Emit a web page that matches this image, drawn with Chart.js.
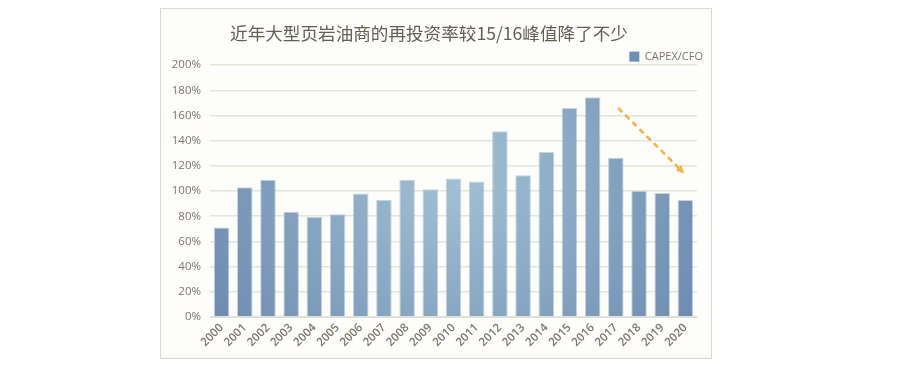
<!DOCTYPE html>
<html>
<head>
<meta charset="utf-8">
<script src="https://cdn.jsdelivr.net/npm/chart.js@4/dist/chart.umd.min.js"></script>
<style>
  html, body { margin: 0; padding: 0; background: #ffffff; }
  body { width: 900px; height: 367px; position: relative; overflow: hidden; }
  #frame {
    position: absolute; left: 160px; top: 8px; width: 550px; height: 349px;
    border: 1.5px solid #d9dacd; background: #fdfdfb;
  }
</style>
</head>
<body>
<div id="frame"><canvas id="capexChart"></canvas></div>
<script>
// Categories and values (CAPEX / CFO, %)
const years = ['2000', '2001', '2002', '2003', '2004', '2005', '2006', '2007', '2008', '2009', '2010',
               '2011', '2012', '2013', '2014', '2015', '2016', '2017', '2018', '2019', '2020'];
const capexCfo = [71, 103, 109, 83.5, 79.5, 81.5, 98, 93, 109, 101.5, 110,
                  107.5, 147.5, 112.5, 131, 166, 174.5, 126.5, 100, 98.5, 93];
const yTicks = [0, 20, 40, 60, 80, 100, 120, 140, 160, 180, 200];
// Trend arrow, in data units: [category index, value %]
const arrowFrom = [17.1, 166];
const arrowTo = [19.95, 114];

const tickColor = '#7f7467';
const gridColor = '#e4e7d8';

function barFill(context) {
    const area = context.chart.chartArea;
    if (!area) return '#86a4c0';
    const cx = (area.left + area.right) / 2;
    const g = context.chart.ctx.createRadialGradient(cx, area.top + area.height * 0.45, 10,
                                                     cx, area.top + area.height * 0.45, area.width * 0.6);
    g.addColorStop(0, '#a1bfd2');
    g.addColorStop(1, '#6a89ae');
    return g;
}

// Dashed orange arrow showing the decline after the 15/16 peak
const trendArrow = {
    id: 'trendArrow',
    afterDatasetsDraw(chart) {
        const { ctx, scales: { x, y } } = chart;
        const x1 = x.getPixelForValue(arrowFrom[0]), y1 = y.getPixelForValue(arrowFrom[1]);
        const x2 = x.getPixelForValue(arrowTo[0]), y2 = y.getPixelForValue(arrowTo[1]);
        const ang = Math.atan2(y2 - y1, x2 - x1);
        const head = 9;
        ctx.save();
        ctx.strokeStyle = '#f0b04c';
        ctx.fillStyle = '#f0b04c';
        ctx.lineWidth = 2.5;
        ctx.setLineDash([6, 4]);
        ctx.beginPath();
        ctx.moveTo(x1, y1);
        ctx.lineTo(x2 - Math.cos(ang) * head * 0.8, y2 - Math.sin(ang) * head * 0.8);
        ctx.stroke();
        ctx.setLineDash([]);
        ctx.beginPath();
        ctx.moveTo(x2, y2);
        ctx.lineTo(x2 - head * Math.cos(ang - 0.45), y2 - head * Math.sin(ang - 0.45));
        ctx.lineTo(x2 - head * Math.cos(ang + 0.45), y2 - head * Math.sin(ang + 0.45));
        ctx.closePath();
        ctx.fill();
        ctx.restore();
    }
};

// Nudge the legend down/right so it sits just above the top gridline
const legendNudge = {
    id: 'legendNudge',
    afterLayout(chart) {
        const lg = chart.legend;
        if (!lg) return;
        lg.top += 7; lg.bottom += 7;
        lg.left += 7; lg.right += 7;
    }
};

const ctx = document.getElementById('capexChart').getContext('2d');
const capexChart = new Chart(ctx, {
    type: 'bar',
    data: {
        labels: years,
        datasets: [{
            label: 'CAPEX/CFO',
            data: capexCfo,
            backgroundColor: barFill,
            borderColor: 'rgba(96, 128, 160, 0.35)',
            borderWidth: 1,
            categoryPercentage: 1.0,
            barPercentage: 0.67
        }]
    },
    options: {
        responsive: true,
        maintainAspectRatio: false,
        animation: false,
        layout: {
            padding: { left: 0, right: 14, top: 0, bottom: 0 }
        },
        plugins: {
            title: {
                display: true,
                text: '近年大型页岩油商的再投资率较15/16峰值降了不少',
                color: '#665d53',
                font: { family: '"Noto Sans CJK SC", "Noto Sans", sans-serif', size: 17.6, weight: 'normal' },
                padding: { top: 14, bottom: -1 }
            },
            legend: {
                display: true,
                position: 'top',
                align: 'end',
                labels: {
                    color: tickColor,
                    boxWidth: 10,
                    boxHeight: 10,
                    padding: 1,
                    font: { family: '"Open Sans", sans-serif', size: 11 },
                    generateLabels: () => [{
                        text: 'CAPEX/CFO',
                        fillStyle: '#6f8fb3',
                        strokeStyle: '#6f8fb3',
                        lineWidth: 0,
                        fontColor: tickColor
                    }]
                }
            },
            tooltip: { enabled: false }
        },
        scales: {
            x: {
                grid: { display: false, drawTicks: false },
                border: { color: '#dcdfd0' },
                ticks: {
                    color: tickColor,
                    font: { family: '"Open Sans", sans-serif', size: 11.5, weight: '600' },
                    minRotation: 45,
                    maxRotation: 45,
                    padding: 4,
                    autoSkip: false
                },
                afterFit(scale) { scale.height = 41; }
            },
            y: {
                min: 0,
                max: 200,
                grid: { color: gridColor, lineWidth: 1.5, drawTicks: false },
                border: { display: false },
                afterBuildTicks(scale) { scale.ticks = yTicks.map(v => ({ value: v })); },
                ticks: {
                    color: tickColor,
                    font: { family: '"Open Sans", sans-serif', size: 11.5 },
                    padding: 9,
                    callback: v => v + '%'
                },
                afterFit(scale) { scale.width = 49; }
            }
        }
    },
    plugins: [trendArrow, legendNudge]
});
</script>
</body>
</html>
